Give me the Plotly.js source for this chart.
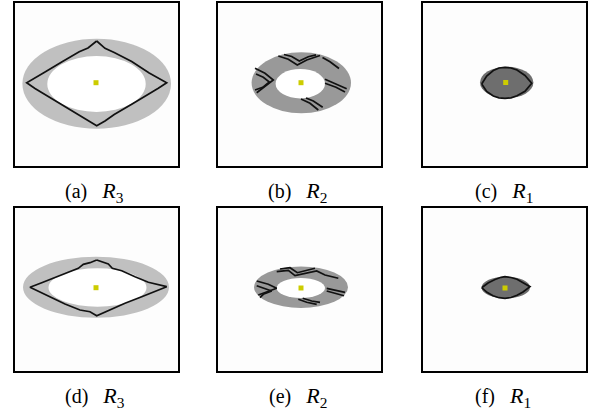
<!DOCTYPE html>
<html>
<head>
<meta charset="utf-8">
<script src="https://cdn.plot.ly/plotly-3.0.1.min.js"></script>
<style>html,body{margin:0;padding:0;background:#fff;}#chart{width:595px;height:410px;}</style>
</head>
<body>
<div id="chart"></div>
<script>
// ---------------- DATA (panel-local units, y measured downward) ----------------
const panelLetters = ['(a)', '(b)', '(c)', '(d)', '(e)', '(f)'];
const regionSubs = ['3', '2', '1', '3', '2', '1'];

// outer (gray) ellipse of each panel
const outerCx = [81.7, 83.3, 83.7, 81.0, 83.0, 82.8];
const outerCy = [80.8, 79.8, 79.5, 79.2, 79.2, 79.5];
const outerRx = [74.3, 49.7, 26.7, 73.0, 47.0, 24.2];
const outerRy = [45.0, 30.5, 15.8, 30.5, 20.7, 10.8];
// inner (white) ellipse of each panel (null = none)
const innerCx = [81.5, 82.3, null, 82.5, 82.8, null];
const innerCy = [81.0, 80.7, null, 79.5, 80.0, null];
const innerRx = [49.2, 24.7, null, 49.0, 24.2, null];
const innerRy = [28.0, 14.7, null, 19.2, 10.0, null];

// centre points (yellow)
const centerX = [81.0, 83.0, 82.7, 81.0, 83.0, 82.0];
const centerY = [79.7, 79.7, 79.5, 79.7, 80.0, 80.0];

// black contour lines
const contourAX = [81.7, 90.0, 99.2, 116.7, 134.2, 151.7, 143.3, 134.2, 116.7, 99.2, 90.0, 81.7, 73.0, 64.2, 46.7, 29.2, 20.0, 11.7, 20.0, 29.2, 46.7, 64.2, 73.0, 81.7];
const contourAY = [38.0, 45.3, 49.5, 58.5, 70.0, 79.7, 85.3, 91.0, 101.2, 111.5, 118.0, 122.7, 117.5, 112.0, 101.0, 90.8, 85.5, 79.7, 74.5, 69.5, 59.0, 48.8, 45.0, 38.0];

const contourBX = [60.3, 70.3, 79.3, 88.7, 102.0, null, 66.0, 73.7, 81.3, 90.3, 98.0, null, 104.5, 112.0, 121.0, null, 37.0, 47.0, 55.3, 47.0, 38.7, null, 38.0, 45.3, 51.3, 44.7, 37.0, null, 107.0, 117.0, 128.7, null, 107.0, 118.0, 127.0, null, 83.0, 92.0, 100.3, null, 88.0, 95.3, 104.7];
const contourBY = [53.0, 56.3, 62.0, 57.0, 52.5, null, 51.5, 53.5, 58.0, 53.7, 51.8, null, 54.5, 58.7, 65.5, null, 65.3, 70.3, 77.0, 83.0, 89.7, null, 71.0, 74.3, 79.0, 84.3, 87.0, null, 76.3, 80.3, 85.7, null, 80.3, 84.3, 89.0, null, 96.0, 100.3, 107.0, null, 95.0, 98.0, 104.3];

const contourCX = [58.7, 63.7, 70.3, 76.0, 82.0, 88.0, 94.0, 102.0, 108.7, 102.0, 94.0, 88.0, 82.0, 76.0, 70.3, 63.7, 58.7];
const contourCY = [81.0, 73.0, 67.5, 65.0, 64.3, 65.0, 67.0, 72.5, 80.3, 88.3, 92.7, 94.8, 95.3, 94.8, 93.0, 88.5, 81.0];

const contourDX = [81.7, 87.3, 93.3, 97.3, 106.7, 120.0, 133.3, 151.7, 140.0, 126.7, 110.0, 96.7, 88.3, 81.7, 75.0, 65.0, 50.0, 33.3, 15.0, 26.7, 40.0, 53.3, 63.3, 68.3, 75.0, 81.7];
const contourDY = [52.0, 53.7, 56.0, 60.3, 62.7, 68.7, 74.3, 78.7, 83.7, 88.7, 95.3, 101.3, 105.3, 107.7, 103.7, 102.0, 96.0, 88.0, 79.3, 74.7, 69.3, 64.7, 60.3, 56.3, 54.7, 52.0];

const contourEX = [58.7, 70.3, 77.0, 87.0, 98.7, 107.0, 120.3, null, 62.0, 72.0, 79.3, 88.7, 97.0, null, 38.7, 50.3, 58.7, 48.7, 40.3, null, 38.7, 47.0, 53.7, 45.3, 42.0, null, 108.7, 118.0, 127.0, null, 108.7, 118.7, 126.0, null, 80.3, 88.7, 98.7, null, 84.7, 93.7, 102.0];
const contourEY = [63.7, 62.3, 67.7, 65.3, 63.0, 67.0, 70.3, null, 61.0, 59.7, 64.7, 62.3, 60.3, null, 73.0, 76.3, 80.3, 83.7, 87.0, null, 77.7, 80.3, 83.0, 86.3, 89.7, null, 80.3, 82.0, 84.3, null, 83.0, 85.7, 87.7, null, 91.3, 94.3, 96.3, null, 90.3, 93.0, 94.3];

const contourFX = [58.7, 65.0, 72.0, 78.0, 82.0, 88.0, 94.0, 100.0, 107.0, 100.0, 94.0, 88.0, 82.0, 76.0, 70.0, 64.0, 58.7];
const contourFY = [79.7, 75.0, 71.5, 69.3, 68.7, 69.5, 71.3, 74.5, 78.7, 84.0, 87.3, 89.5, 90.3, 89.7, 87.7, 84.3, 79.7];

const contoursX = [contourAX, contourBX, contourCX, contourDX, contourEX, contourFX];
const contoursY = [contourAY, contourBY, contourCY, contourDY, contourEY, contourFY];

// ---------------- STYLE / LAYOUT ----------------
const W = 595, H = 410;
const boxLeft = [15, 218, 423];
const boxTop = [3, 208];
const boxSize = 163;
const fillGray = ['#c0c0c0', '#999999', '#6e6e6e', '#c0c0c0', '#999999', '#6e6e6e'];
const labelCenter = [95, 297, 504, 95, 297.5, 503];
const labelMid = [191.5, 396.5];

const traces = [];
const shapes = [];
const annotations = [];
const layout = {
  width: W, height: H,
  margin: {l: 0, r: 0, t: 0, b: 0},
  paper_bgcolor: '#ffffff',
  plot_bgcolor: '#fdfdfd',
  showlegend: false,
  shapes: shapes,
  annotations: annotations
};

for (let i = 0; i < 6; i++) {
  const col = i % 3, row = Math.floor(i / 3);
  const sfx = i === 0 ? '' : String(i + 1);
  const xa = 'x' + sfx, ya = 'y' + sfx;
  const x0 = boxLeft[col], y0 = boxTop[row];
  const axBase = {
    showgrid: false, zeroline: false, showticklabels: false, ticks: '',
    showline: true, mirror: true, linecolor: '#000', linewidth: 2,
    fixedrange: true
  };
  layout['xaxis' + sfx] = Object.assign({}, axBase, {
    domain: [x0 / W, (x0 + boxSize) / W], range: [0, boxSize], anchor: ya
  });
  layout['yaxis' + sfx] = Object.assign({}, axBase, {
    domain: [1 - (y0 + boxSize) / H, 1 - y0 / H], range: [boxSize, 0], anchor: xa
  });

  shapes.push({
    type: 'circle', xref: xa, yref: ya, layer: 'below',
    x0: outerCx[i] - outerRx[i], x1: outerCx[i] + outerRx[i],
    y0: outerCy[i] - outerRy[i], y1: outerCy[i] + outerRy[i],
    fillcolor: fillGray[i], line: {width: 0}
  });
  if (innerCx[i] !== null) {
    shapes.push({
      type: 'circle', xref: xa, yref: ya, layer: 'below',
      x0: innerCx[i] - innerRx[i], x1: innerCx[i] + innerRx[i],
      y0: innerCy[i] - innerRy[i], y1: innerCy[i] + innerRy[i],
      fillcolor: '#ffffff', line: {width: 0}
    });
  }

  traces.push({
    type: 'scatter', mode: 'lines', xaxis: xa, yaxis: ya,
    x: contoursX[i], y: contoursY[i], connectgaps: false,
    line: {color: '#111111', width: 1.7}, hoverinfo: 'skip'
  });
  traces.push({
    type: 'scatter', mode: 'markers', xaxis: xa, yaxis: ya,
    x: [centerX[i]], y: [centerY[i]],
    marker: {symbol: 'square', size: 5, color: '#cccc00', line: {width: 0}},
    hoverinfo: 'skip'
  });

  annotations.push({
    xref: 'paper', yref: 'paper',
    x: labelCenter[i] / W, y: 1 - labelMid[row] / H,
    xanchor: 'center', yanchor: 'middle', showarrow: false,
    text: panelLetters[i] + '\u00a0\u00a0\u00a0<span style="font-size:22px"><i>R</i><sub>' + regionSubs[i] + '</sub></span>',
    font: {family: '"Liberation Serif", "Times New Roman", Times, serif', size: 20, color: '#000'}
  });
}

Plotly.newPlot('chart', traces, layout, {staticPlot: true, displayModeBar: false});
</script>
</body>
</html>
